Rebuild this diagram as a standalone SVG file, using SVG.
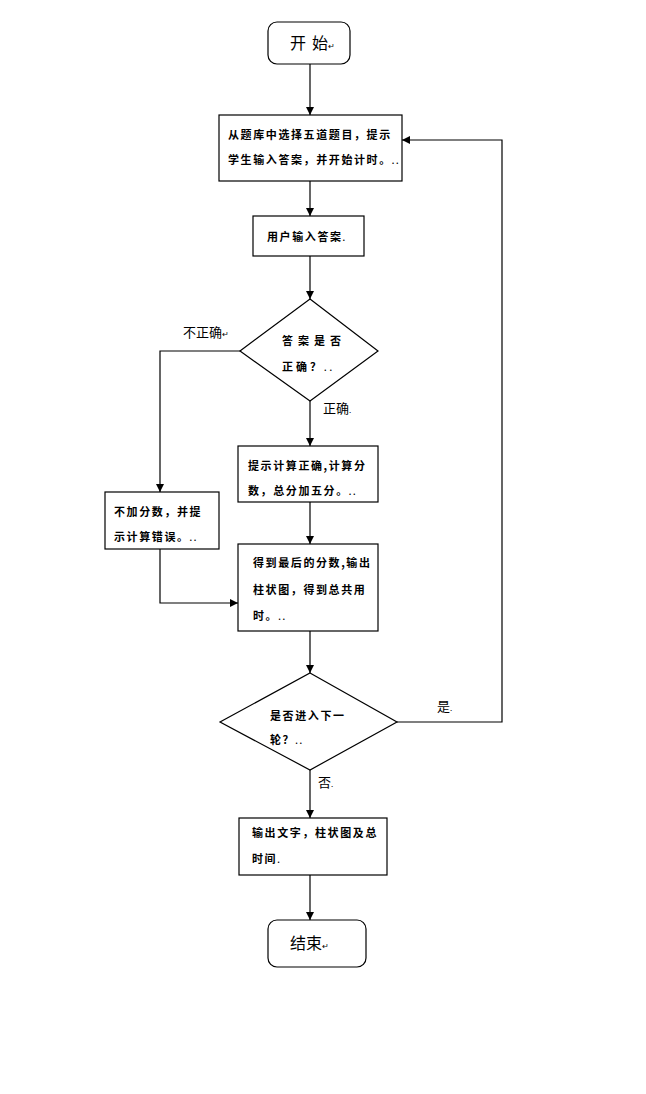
<svg xmlns="http://www.w3.org/2000/svg" width="646" height="1094" viewBox="0 0 646 1094">
<defs>
<marker id="ah" viewBox="0 0 10 10" refX="10" refY="5" markerWidth="8" markerHeight="8" orient="auto" markerUnits="userSpaceOnUse"><path d="M0,0 L10,5 L0,10 z" fill="#000"/></marker>
<style>
.s{fill:#fff;stroke:#000;stroke-width:1.2}
.c{fill:none;stroke:#000;stroke-width:1.2}
.t{font-family:"Noto Sans CJK SC","Noto Sans CJK JP",sans-serif;font-size:11px;font-weight:bold;letter-spacing:1.6px;fill:#000}
.l{font-family:"Noto Sans CJK SC",sans-serif;font-size:13px;fill:#000}
.b{font-family:"Noto Sans CJK SC",sans-serif;font-size:16px;fill:#000}
.m{font-size:8px}
</style>
</defs>
<rect width="646" height="1094" fill="#fff"/>
<g id="connectors">
<path class="c" d="M310,64 V115" marker-end="url(#ah)"/>
<path class="c" d="M310,181 V216" marker-end="url(#ah)"/>
<path class="c" d="M310,256 V299" marker-end="url(#ah)"/>
<path class="c" d="M310,401 V446" marker-end="url(#ah)"/>
<path class="c" d="M240,351 H160 V492" marker-end="url(#ah)"/>
<path class="c" d="M310,502 V544" marker-end="url(#ah)"/>
<path class="c" d="M160,549 V603 H238" marker-end="url(#ah)"/>
<path class="c" d="M310,631 V673" marker-end="url(#ah)"/>
<path class="c" d="M397,722 H502 V140 H402" marker-end="url(#ah)"/>
<path class="c" d="M310,770 V818" marker-end="url(#ah)"/>
<path class="c" d="M310,875 V920" marker-end="url(#ah)"/>
<text class="l" x="183" y="337">不正确<tspan class="m">↵</tspan></text>
<text class="l" x="323" y="413">正确<tspan class="m">.</tspan></text>
<text class="l" x="437" y="711">是<tspan class="m">.</tspan></text>
<text class="l" x="318" y="787">否<tspan class="m">.</tspan></text>
</g>
<g id="start">
<rect class="s" x="268" y="22" width="82" height="42" rx="9"/>
<text class="b" x="290" y="49"><tspan style="letter-spacing:6px">开</tspan>始<tspan class="m">↵</tspan></text>
</g>
<g id="select">
<rect class="s" x="219" y="115" width="183" height="66"/>
<text class="t" x="228" y="139">从题库中选择五道题目，提示</text>
<text class="t" x="228" y="164">学生输入答案，并开始计时。<tspan class="m">..</tspan></text>
</g>
<g id="input">
<rect class="s" x="253" y="216" width="111" height="40"/>
<text class="t" x="267" y="241">用户输入答案<tspan class="m">.</tspan></text>
</g>
<g id="check">
<polygon class="s" points="310,299 378,351 310,401 240,351"/>
<text class="t" x="282" y="345" style="letter-spacing:5px">答案是否</text>
<text class="t" x="282" y="371" style="letter-spacing:3px">正确？<tspan class="m">..</tspan></text>
</g>
<g id="correct">
<rect class="s" x="238" y="446" width="140" height="56"/>
<text class="t" x="248" y="470">提示计算正确,计算分</text>
<text class="t" x="248" y="495">数，总分加五分。<tspan class="m">..</tspan></text>
</g>
<g id="wrong">
<rect class="s" x="105" y="492" width="114" height="57"/>
<text class="t" x="114" y="516">不加分数，并提</text>
<text class="t" x="114" y="541">示计算错误。<tspan class="m">..</tspan></text>
</g>
<g id="result">
<rect class="s" x="238" y="544" width="140" height="87"/>
<text class="t" x="253" y="567">得到最后的分数,输出</text>
<text class="t" x="253" y="594">柱状图，得到总共用</text>
<text class="t" x="253" y="620">时。<tspan class="m">..</tspan></text>
</g>
<g id="next">
<polygon class="s" points="310,673 397,722 310,770 220,722"/>
<text class="t" x="270" y="720">是否进入下一</text>
<text class="t" x="270" y="744">轮？<tspan class="m">..</tspan></text>
</g>
<g id="output">
<rect class="s" x="239" y="818" width="148" height="57"/>
<text class="t" x="252" y="837">输出文字，柱状图及总</text>
<text class="t" x="252" y="863">时间<tspan class="m">.</tspan></text>
</g>
<g id="end">
<rect class="s" x="268" y="920" width="98" height="47" rx="9"/>
<text class="b" x="290" y="949">结束<tspan class="m">↵</tspan></text>
</g>
</svg>
